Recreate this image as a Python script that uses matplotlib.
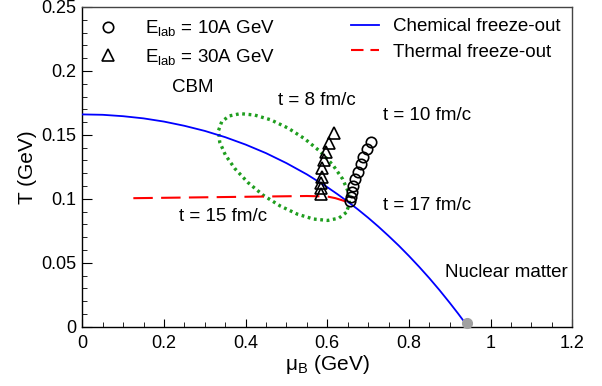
import matplotlib
matplotlib.use("Agg")
import matplotlib.pyplot as plt
from matplotlib.ticker import MultipleLocator
from matplotlib.lines import Line2D

plt.rcParams['font.family'] = ['Liberation Sans', 'DejaVu Sans']
plt.rcParams['mathtext.default'] = 'regular'
plt.rcParams['lines.scale_dashes'] = False

# chemical freeze-out curve
chem_mu = [0.0, 0.05, 0.1, 0.15, 0.2, 0.25, 0.3, 0.35, 0.4, 0.45, 0.5, 0.55, 0.6,
           0.625, 0.65, 0.675, 0.7, 0.725, 0.75, 0.775, 0.8, 0.825, 0.85, 0.875,
           0.9, 0.92, 0.938]
chem_T = [0.166, 0.1657, 0.1646, 0.1629, 0.1604, 0.1571, 0.1531, 0.1482, 0.1424,
          0.1357, 0.1279, 0.1191, 0.1091, 0.1036, 0.0978, 0.0917, 0.0852, 0.0783,
          0.0710, 0.0634, 0.0553, 0.0468, 0.0379, 0.0285, 0.0186, 0.0104, 0.0027]

# thermal freeze-out curve
therm_mu = [0.125, 0.2, 0.3, 0.4, 0.5, 0.55, 0.6, 0.62, 0.64, 0.656]
therm_T = [0.1005, 0.1008, 0.1012, 0.1016, 0.1020, 0.1022, 0.1018, 0.1005, 0.0985, 0.0965]

# E_lab = 10A GeV trajectory (circles)
e10_mu = [0.656, 0.657, 0.660, 0.662, 0.668, 0.674, 0.682, 0.688, 0.697, 0.706]
e10_T = [0.0983, 0.1016, 0.1056, 0.1100, 0.1152, 0.1212, 0.1272, 0.1329, 0.1387, 0.1442]

# E_lab = 30A GeV trajectory (triangles)
e30_mu = [0.584, 0.584, 0.584, 0.586, 0.588, 0.592, 0.597, 0.603, 0.616]
e30_T = [0.1038, 0.1082, 0.1121, 0.1173, 0.1238, 0.1303, 0.1368, 0.1439, 0.1512]

# CBM region outline (dotted ellipse)
cbm_mu = [0.6466, 0.6284, 0.6010, 0.5660, 0.5268, 0.4847, 0.4435, 0.4058, 0.3740,
          0.3505, 0.3365, 0.3336, 0.3414, 0.3595, 0.3870, 0.4220, 0.4612, 0.5033,
          0.5444, 0.5822, 0.6140, 0.6375, 0.6515, 0.6544, 0.6466]
cbm_T = [0.0894, 0.0849, 0.0831, 0.0842, 0.0880, 0.0944, 0.1027, 0.1127, 0.1235,
         0.1342, 0.1444, 0.1534, 0.1603, 0.1648, 0.1666, 0.1655, 0.1618, 0.1554,
         0.1470, 0.1371, 0.1263, 0.1155, 0.1053, 0.0963, 0.0894]

# nuclear matter point
nm_mu = [0.941]
nm_T = [0.0031]

fig = plt.figure(figsize=(6.02, 3.86), dpi=100)
ax = fig.add_axes([0.1367, 0.1536, 0.814, 0.8283])

ax.plot(cbm_mu, cbm_T, color='#1f9e1f', lw=2.4, linestyle=(0, (2.0, 2.6)),
        dash_capstyle='butt', zorder=2)
chem_line, = ax.plot(chem_mu, chem_T, color='#0000ff', lw=1.3, zorder=3)
therm_line, = ax.plot(therm_mu, therm_T, color='#ff0000', lw=1.5,
                      dashes=(14, 6), zorder=3)
circ, = ax.plot(e10_mu, e10_T, 'o', mfc='none', mec='black', ms=7.5, mew=1.2,
                linestyle='none', zorder=4)
tri, = ax.plot(e30_mu, e30_T, '^', mfc='none', mec='black', ms=8, mew=1.2,
               linestyle='none', zorder=4)
ax.plot(nm_mu, nm_T, 'o', color='#a0a0a0', ms=7, zorder=5, clip_on=False)

ax.set_xlim(0, 1.2)
ax.set_ylim(0, 0.25)
ax.xaxis.set_major_locator(MultipleLocator(0.2))
ax.xaxis.set_minor_locator(MultipleLocator(0.05))
ax.yaxis.set_major_locator(MultipleLocator(0.05))
ax.yaxis.set_minor_locator(MultipleLocator(0.01))
ax.set_xticks([0, 0.2, 0.4, 0.6, 0.8, 1.0, 1.2])
ax.set_xticklabels(['0', '0.2', '0.4', '0.6', '0.8', '1', '1.2'])
ax.set_yticks([0, 0.05, 0.1, 0.15, 0.2, 0.25])
ax.set_yticklabels(['0', '0.05', '0.1', '0.15', '0.2', '0.25'])
ax.tick_params(which='both', direction='in', top=False, right=False, labelsize=13)
ax.tick_params(axis='x', which='major', length=6, pad=6)
ax.tick_params(axis='y', which='major', length=7.5, pad=4)
ax.tick_params(which='minor', length=3.5)
for s in ['top', 'right']:
    ax.spines[s].set_color('#444444')
for s in ax.spines.values():
    s.set_linewidth(1.0)

ax.set_xlabel('μ$_B$ (GeV)', fontsize=15, labelpad=1)
ax.set_ylabel('T (GeV)', fontsize=15, labelpad=3)

fs = 13.5
ax.text(0.220, 0.1874, 'CBM', fontsize=fs, va='center')
ax.text(0.479, 0.177, 't = 8 fm/c', fontsize=fs, va='center')
ax.text(0.736, 0.1655, 't = 10 fm/c', fontsize=fs, va='center')
ax.text(0.736, 0.0944, 't = 17 fm/c', fontsize=fs, va='center')
ax.text(0.237, 0.086, 't = 15 fm/c', fontsize=fs, va='center')
ax.text(0.889, 0.042, 'Nuclear matter', fontsize=fs, va='center')

leg1 = ax.legend([circ, tri], ['E$_{lab}$ = 10A GeV', 'E$_{lab}$ = 30A GeV'],
                 loc='upper left', bbox_to_anchor=(0.0, 1.0), frameon=False,
                 fontsize=fs, handlelength=1.5, handletextpad=1.25,
                 labelspacing=0.45, borderaxespad=0.3, borderpad=0.3)
ax.add_artist(leg1)
chem_h = Line2D([], [], color='#0000ff', lw=1.3)
therm_h = Line2D([], [], color='#ff0000', lw=1.5, dashes=(9, 5))
ax.legend([chem_h, therm_h], ['Chemical freeze-out', 'Thermal freeze-out'],
          loc='upper left', bbox_to_anchor=(0.525, 1.0), frameon=False,
          fontsize=fs, handlelength=1.5, handletextpad=0.75,
          labelspacing=0.45, borderaxespad=0.3, borderpad=0.3)

fig.savefig('out.png', dpi=100)
